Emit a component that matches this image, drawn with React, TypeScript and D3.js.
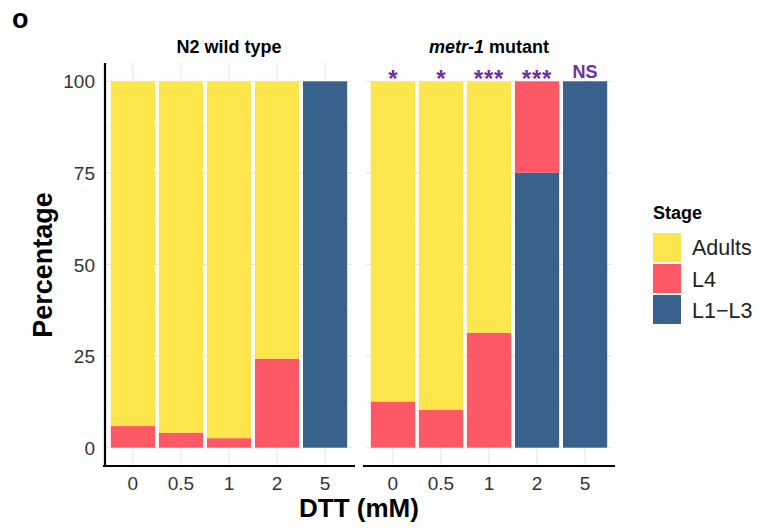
import React from 'react';
import * as d3 from 'd3';

// DTT doses (x categories) and stage percentages
const doses = ['0', '0.5', '1', '2', '5'];
const stages = ['L1-L3', 'L4', 'Adults']; // bottom to top in the stack
const stageLabels = ['Adults', 'L4', 'L1\u2212L3']; // legend order
const n2Adults = [94.1, 95.9, 97.4, 75.7, 0];
const n2L4 = [5.9, 4.1, 2.6, 24.3, 0];
const n2L1L3 = [0, 0, 0, 0, 100];
const metrAdults = [87.4, 89.7, 68.6, 0, 0];
const metrL4 = [12.6, 10.3, 31.4, 24.9, 0];
const metrL1L3 = [0, 0, 0, 75.1, 100];
const signif = ['*', '*', '***', '***', 'NS'];
const yTicks = [0, 25, 50, 75, 100];
const yMinor = [12.5, 37.5, 62.5, 87.5];

const colors: Record<string, string> = {
  Adults: '#FDE54D',
  L4: '#FD5865',
  'L1-L3': '#38618C',
};

const W = 759;
const H = 528;
const top = 63;
const bottom = 466;
const font = 'Liberation Sans, Arial, sans-serif';

const y = d3.scaleLinear().domain([-5, 105]).range([bottom, top]);

type Panel = {
  x0: number;
  x1: number;
  adults: number[];
  l4: number[];
  l1l3: number[];
};

const panels: Panel[] = [
  { x0: 106, x1: 352, adults: n2Adults, l4: n2L4, l1l3: n2L1L3 },
  { x0: 366, x1: 612, adults: metrAdults, l4: metrL4, l1l3: metrL1L3 },
];

function PanelView({ p, idx }: { p: Panel; idx: number }) {
  const x = d3.scaleBand().domain(doses).range([p.x0, p.x1]).paddingInner(0.08).paddingOuter(0.1);
  const rows = doses.map((d, i) => ({
    dose: d,
    'L1-L3': p.l1l3[i],
    L4: p.l4[i],
    Adults: p.adults[i],
  }));
  const series = d3.stack<any>().keys(stages)(rows);
  return (
    <g>
      {yMinor.map((t) => (
        <line key={'mi' + t} x1={p.x0} x2={p.x1} y1={y(t)} y2={y(t)} stroke="#EBEBEB" strokeWidth={0.6} />
      ))}
      {yTicks.map((t) => (
        <line key={'ma' + t} x1={p.x0} x2={p.x1} y1={y(t)} y2={y(t)} stroke="#E6E6E6" strokeWidth={1.1} />
      ))}
      {doses.map((d) => (
        <line key={'v' + d} x1={x(d)! + x.bandwidth() / 2} x2={x(d)! + x.bandwidth() / 2} y1={top} y2={bottom} stroke="#E6E6E6" strokeWidth={1.1} />
      ))}
      {series.map((s) =>
        s.map((seg, i) => {
          const h = y(seg[0]) - y(seg[1]);
          if (h <= 0) return null;
          return (
            <rect
              key={s.key + i}
              x={x(doses[i])}
              width={x.bandwidth()}
              y={y(seg[1])}
              height={h}
              fill={colors[s.key]}
            />
          );
        })
      )}
      {doses.map((d) => (
        <text key={'t' + d} x={x(d)! + x.bandwidth() / 2} y={490} textAnchor="middle" fontSize={19} fill="#333" fontFamily={font}>
          {d}
        </text>
      ))}
      <line x1={p.x0 - 3} x2={p.x1 + 3} y1={bottom} y2={bottom} stroke="#000" strokeWidth={2.2} />
      {idx === 1 &&
        doses.map((d, i) => (
          <text
            key={'s' + d}
            x={x(d)! + x.bandwidth() / 2}
            y={signif[i] === 'NS' ? 78 : 87}
            textAnchor="middle"
            fontSize={signif[i] === 'NS' ? 18 : 24}
            fontWeight="bold"
            fill="#7030A0"
            fontFamily={font}
            letterSpacing={signif[i] === '***' ? 0.8 : 0}
          >
            {signif[i]}
          </text>
        ))}
    </g>
  );
}

export default function App() {
  return (
    <div style={{ position: 'absolute', left: 0, top: 0 }}>
      <svg width={W} height={H} style={{ display: 'block', background: '#fff' }}>
        <text x={12} y={28} fontSize={27} fontWeight="bold" fontFamily={font}>o</text>
        <text x={229} y={53} textAnchor="middle" fontSize={18} fontWeight="bold" fontFamily={font}>N2 wild type</text>
        <text x={489} y={53} textAnchor="middle" fontSize={18} fontWeight="bold" fontFamily={font}>
          <tspan fontStyle="italic">metr-1</tspan> mutant
        </text>
        {panels.map((p, i) => (
          <PanelView key={i} p={p} idx={i} />
        ))}
        {/* y axis */}
        <line x1={105} x2={105} y1={top} y2={bottom + 1} stroke="#000" strokeWidth={2.2} />
        {yTicks.map((t) => (
          <text key={t} x={95} y={y(t) + 7} textAnchor="end" fontSize={19} fill="#333" fontFamily={font}>
            {t}
          </text>
        ))}
        <text
          transform={`translate(52, 265) rotate(-90)`}
          textAnchor="middle"
          fontSize={27}
          fontWeight="bold"
          fontFamily={font}
        >
          Percentage
        </text>
        <text x={359} y={517} textAnchor="middle" fontSize={26} fontWeight="bold" fontFamily={font}>
          DTT (mM)
        </text>
        {/* legend */}
        <text x={653} y={219} fontSize={18} fontWeight="bold" fontFamily={font}>Stage</text>
        {stageLabels.map((l, i) => (
          <g key={l}>
            <rect x={653} y={233 + i * 31} width={28} height={29} fill={colors[l === 'L1\u2212L3' ? 'L1-L3' : l]} />
            <text x={692} y={255 + i * 31.5} fontSize={21.5} fill="#222" fontFamily={font}>{l}</text>
          </g>
        ))}
      </svg>
    </div>
  );
}
